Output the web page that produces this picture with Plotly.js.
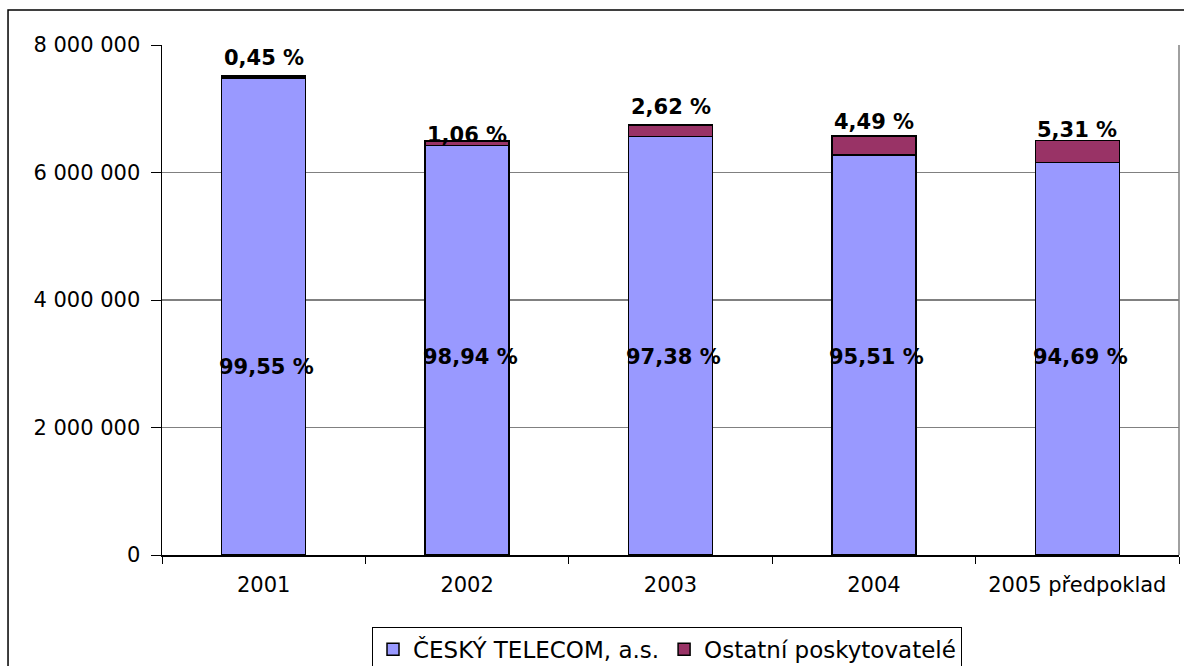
<!DOCTYPE html>
<html>
<head>
<meta charset="utf-8">
<script src="https://cdn.plot.ly/plotly-3.0.1.min.js"></script>
<style>html,body{margin:0;padding:0;background:#fff;}#chart{width:1184px;height:666px;}</style>
</head>
<body>
<div id="chart"></div>
<script>
// ---- data ----
const categories = ["2001", "2002", "2003", "2004", "2005 předpoklad"];
const telecomValues = [7480000, 6425000, 6568000, 6275000, 6154000];
const otherValues = [34000, 69000, 177000, 300000, 345000];
const telecomLabels = ["99,55 %", "98,94 %", "97,38 %", "95,51 %", "94,69 %"];
const otherLabels = ["0,45 %", "1,06 %", "2,62 %", "4,49 %", "5,31 %"];
const seriesNames = ["ČESKÝ TELECOM, a.s.", "Ostatní poskytovatelé"];

// ---- layout / style constants ----
const FONT = "DejaVu Sans, Liberation Sans, Arial, sans-serif";
const innerLabelY = [2950000, 3106000, 3106000, 3106000, 3106000];
const topLabelShift = [18, 6, 18, 14, 11];

const traces = [
  {
    type: "bar", name: seriesNames[0], x: categories, y: telecomValues,
    marker: {color: "#9999FF", line: {color: "#000000", width: 1.5}},
    hoverinfo: "skip"
  },
  {
    type: "bar", name: seriesNames[1], x: categories, y: otherValues,
    marker: {color: "#993366", line: {color: "#000000", width: 1.5}},
    hoverinfo: "skip"
  }
];

const annotations = [];
categories.forEach((c, i) => {
  annotations.push({
    x: i, y: innerLabelY[i], xref: "x", yref: "y", text: telecomLabels[i],
    showarrow: false, xshift: 3, yanchor: "middle",
    font: {family: FONT, size: 21, color: "#000", weight: "bold"}
  });
  annotations.push({
    x: i, y: telecomValues[i] + otherValues[i], xref: "x", yref: "y", text: otherLabels[i],
    showarrow: false, yanchor: "middle", yshift: topLabelShift[i],
    font: {family: FONT, size: 21, color: "#000", weight: "bold"}
  });
});

const layout = {
  width: 1184, height: 666,
  margin: {l: 162, r: 5, t: 45, b: 111, autoexpand: false},
  paper_bgcolor: "#ffffff", plot_bgcolor: "#ffffff",
  barmode: "stack", bargap: 0.587,
  separators: ", ",
  font: {family: FONT, size: 21, color: "#000"},
  showlegend: true,
  legend: {
    orientation: "h", traceorder: "normal",
    x: 0.2065, xanchor: "left", y: -0.141, yanchor: "top",
    bordercolor: "#000", borderwidth: 1, bgcolor: "#fff",
    font: {family: FONT, size: 23, color: "#000"},
    itemclick: false, itemdoubleclick: false, tracegroupgap: 0
  },
  xaxis: {
    type: "category", range: [-0.5, 4.5], autorange: false,
    showline: true, linecolor: "#000", linewidth: 1.5,
    ticks: "outside", tickson: "boundaries", ticklen: 7, tickcolor: "#000", tickwidth: 1,
    showgrid: false, ticklabelstandoff: 10, tickangle: 0,
    tickfont: {family: FONT, size: 21, color: "#000"}, fixedrange: true
  },
  yaxis: {
    range: [0, 8000000], autorange: false, dtick: 2000000, tick0: 0, tickformat: ",d",
    showline: true, linecolor: "#000", linewidth: 1.5,
    ticks: "outside", ticklen: 10, tickcolor: "#000", tickwidth: 1,
    showgrid: true, gridcolor: "#808080", gridwidth: 1.2, zeroline: false,
    ticklabelstandoff: 6,
    tickfont: {family: FONT, size: 21, color: "#000"}, fixedrange: true
  },
  shapes: [
    {type: "line", xref: "paper", yref: "paper", x0: 1, x1: 1, y0: 0, y1: 1,
     line: {color: "#808080", width: 1.5}},
    {type: "rect", xref: "paper", yref: "paper", x0: -0.1514, x1: 1.2, y0: -0.6, y1: 1.0686,
     line: {color: "#000", width: 1.5}, fillcolor: "rgba(0,0,0,0)", layer: "below"}
  ],
  annotations: annotations
};

Plotly.newPlot("chart", traces, layout, {displayModeBar: false, staticPlot: true});
</script>
</body>
</html>
